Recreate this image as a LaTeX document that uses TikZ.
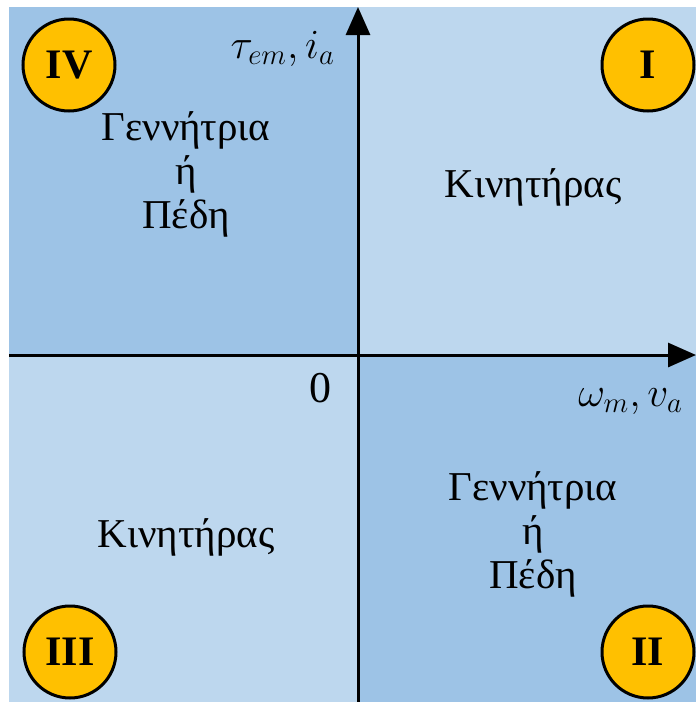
\documentclass[tikz,border=0pt]{standalone}
\usepackage{fontspec}
\setmainfont{Liberation Serif}
\usetikzlibrary{arrows.meta,positioning}
\definecolor{qdark}{HTML}{9DC3E6}
\definecolor{qlight}{HTML}{BDD7EE}
\definecolor{qgold}{HTML}{FFC000}
\begin{document}
\begin{tikzpicture}[x=0.5pt,y=-0.5pt,
    quadnum/.style={circle, draw=black, line width=1.5pt, fill=qgold,
      minimum size=46pt, inner sep=0pt, font=\fontsize{21}{21}\selectfont\bfseries},
    modetext/.style={align=center, font=\fontsize{20.5}{22}\selectfont},
    axislabel/.style={font=\fontsize{22}{22}\selectfont}]
    \useasboundingbox (0,0) rectangle (696,702);
    % Quadrant fills
    \fill[qdark] (9,7) rectangle (358,355);
    \fill[qlight] (358,7) rectangle (696,355);
    \fill[qlight] (9,355) rectangle (358,702);
    \fill[qdark] (358,355) rectangle (696,702);
    % Axes
    \coordinate (origin) at (358,355);
    \coordinate (ytop) at (358,7);
    \coordinate (ybot) at (358,702);
    \coordinate (xleft) at (9,355);
    \coordinate (xright) at (696,355);
    \draw[line width=1.5pt, -{Triangle[length=14pt,width=12pt]}] (ybot) -- (ytop);
    \draw[line width=1.5pt, -{Triangle[length=14pt,width=12pt]}] (xleft) -- (xright);
    % Axis labels
    \node[axislabel, anchor=base east] (ylab) at (342,58) {$\tau_{em},i_a$};
    \node[axislabel, anchor=base east] (xlab) at (690,406) {$\omega_m,v_a$};
    \node[axislabel] (zero) at (320,388) {0};
    % Quadrant numbers
    \node[quadnum] (qI) at (648,65) {I};
    \node[quadnum] (qII) at (648,652) {II};
    \node[quadnum] (qIII) at (70,652) {III};
    \node[quadnum] (qIV) at (69,65) {IV};
    % Operating modes
    \node[modetext] (modeI) at (533,187) {Κινητήρας};
    \node[modetext] (modeII) at (533,534) {Γεννήτρια\\ή\\Πέδη};
    \node[modetext] (modeIII) at (186,537) {Κινητήρας};
    \node[modetext] (modeIV) at (186,174) {Γεννήτρια\\ή\\Πέδη};
\end{tikzpicture}
\end{document}
